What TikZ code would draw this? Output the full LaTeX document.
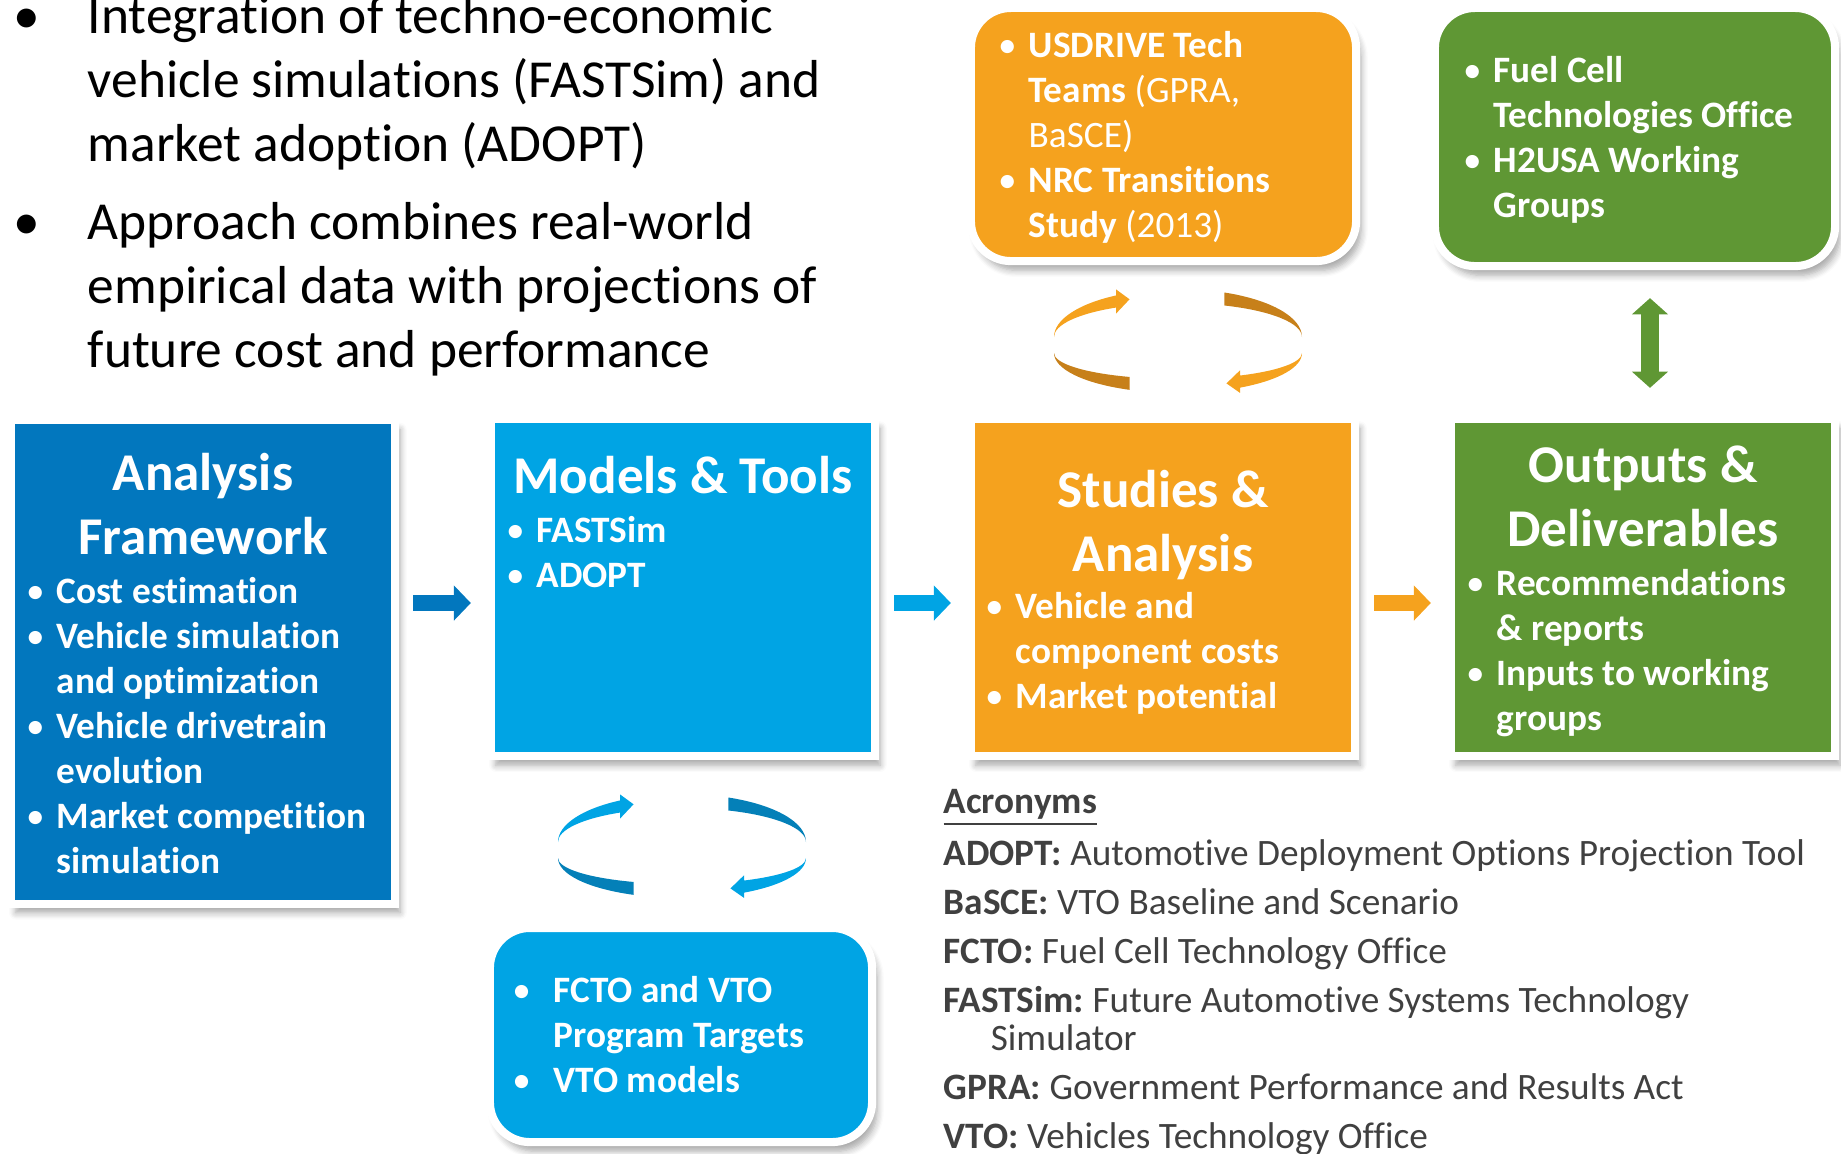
\documentclass[tikz,border=0pt]{standalone}
\usepackage{fontspec}
\setmainfont{Carlito}[Ligatures={TeX,CommonOff}]
\usepackage{xcolor}
\usepackage{tikz}
\usetikzlibrary{positioning}
\usetikzlibrary{shapes,arrows.meta}
\usetikzlibrary{shadows.blur}
\frenchspacing

\definecolor{afblue}{RGB}{2,119,190}
\definecolor{mtblue}{RGB}{0,164,228}
\definecolor{saorange}{RGB}{245,162,30}
\definecolor{odgreen}{RGB}{95,151,52}
\definecolor{orangedark}{RGB}{199,128,26}
\definecolor{bluedark}{RGB}{4,128,184}
\definecolor{acrogray}{RGB}{64,64,64}

\tikzstyle{boxframe} = [draw=white, line width=2.3pt, inner sep=0pt, minimum width=3.84cm,
    blur shadow={shadow xshift=1.4pt, shadow yshift=-2.6pt, shadow opacity=35, shadow blur steps=6}]
\tikzstyle{roundframe} = [boxframe, rounded corners=0.4cm]
\tikzstyle{boxtitle} = [text=white, font=\fontsize{15.1}{18.3}\selectfont\bfseries, text width=3.76cm, align=flush center, inner sep=0pt, anchor=base]
\tikzstyle{boxlist} = [text=white, font=\fontsize{10.6}{12.8}\selectfont\bfseries, text width=4cm, align=flush left, inner sep=0pt, anchor=base west]
\tikzstyle{acrolist} = [text=acrogray, font=\fontsize{10.6}{10.9}\selectfont, text width=9cm, align=flush left, inner sep=0pt, anchor=base west]
\tikzstyle{flowarrow} = [line width=4.5pt, -{Triangle[width=9.7pt, length=4.8pt]}]
\tikzstyle{linkarrow} = [line width=5pt, {Triangle[width=10pt, length=4.6pt]}-{Triangle[width=10pt, length=4.6pt]}]

% bullet hung left of the text start
\newcommand{\bl}[1][3.4pt]{\leavevmode\llap{{\mdseries\textbullet}\hspace{#1}}}

\begin{document}
\begin{tikzpicture}[x=0.01cm, y=-0.01cm]
\useasboundingbox (0,0) rectangle (1841,1153);

%% intro
\node[text=black, font=\fontsize{15.2}{18.2}\selectfont, text width=7.8cm, align=flush left, inner sep=0pt, anchor=base west] (intro) at (87,33) {%
    \bl[13.5pt]Integration of techno-economic\\
    vehicle simulations (FASTSim) and\\
    market adoption (ADOPT)\\[4pt]
    \bl[13.5pt]Approach combines real-world\\
    empirical data with projections of\\
    future cost and performance};

%% main chain
\node[boxframe, fill=afblue, minimum height=4.83cm] (af) at (203,662) {};
\node[boxframe, fill=mtblue, minimum height=3.37cm] (mt) at (683,587.5) {};
\node[boxframe, fill=saorange, minimum height=3.37cm] (sa) at (1163,587.5) {};
\node[boxframe, fill=odgreen, minimum height=3.37cm] (od) at (1643,587.5) {};

\node[boxtitle] (af-title) at (203,490) {Analysis\\Framework};
\node[boxlist] (af-list) at (56,603) {%
    \bl Cost estimation\\
    \bl Vehicle simulation\\
    and optimization\\
    \bl Vehicle drivetrain\\
    evolution\\
    \bl Market competition\\
    simulation};

\node[boxtitle] (mt-title) at (683,493) {Models \& Tools};
\node[boxlist] (mt-list) at (536,542) {%
    \bl FASTSim\\
    \bl ADOPT};

\node[boxtitle] (sa-title) at (1163,507) {Studies \&\\Analysis};
\node[boxlist] (sa-list) at (1015,618) {%
    \bl Vehicle and\\
    component costs\\
    \bl Market potential};

\node[boxtitle] (od-title) at (1643,482) {Outputs \&\\Deliverables};
\node[boxlist] (od-list) at (1496,595) {%
    \bl Recommendations\\
    \& reports\\
    \bl Inputs to working\\
    groups};

\coordinate (flow) at (0,603);
\draw[flowarrow, draw=afblue, shorten <=0.14cm, shorten >=0.16cm] (af.east |- flow) -- (mt.west |- flow);
\draw[flowarrow, draw=mtblue, shorten <=0.15cm, shorten >=0.16cm] (mt.east |- flow) -- (sa.west |- flow);
\draw[flowarrow, draw=saorange, shorten <=0.15cm, shorten >=0.16cm] (sa.east |- flow) -- (od.west |- flow);

%% side inputs
\node[roundframe, fill=saorange, minimum width=3.85cm, minimum height=2.53cm] (usd) at (1163.5,134.5) {};
\node[boxlist] (usd-list) at (1028,57) {%
    \bl USDRIVE Tech\\
    Teams {\mdseries (GPRA,}\\
    {\mdseries BaSCE)}\\
    \bl NRC Transitions\\
    Study {\mdseries (2013)}};

\node[roundframe, fill=odgreen, minimum width=4cm, minimum height=2.58cm] (fc) at (1635,137) {};
\node[boxlist] (fc-list) at (1493,82) {%
    \bl Fuel Cell\\
    Technologies Office\\
    \bl H2USA Working\\
    Groups};

\node[roundframe, fill=mtblue, minimum width=3.82cm, minimum height=2.14cm] (fcto) at (681,1035) {};
\node[boxlist] (fcto-list) at (553,1002) {%
    \bl[6.5pt]FCTO and VTO\\
    Program Targets\\
    \bl[6.5pt]VTO models};

\coordinate (fclink) at (1650,0);
\draw[linkarrow, draw=odgreen, shorten <=0.28cm, shorten >=0.27cm] (fc.south -| fclink) -- (od.north -| fclink);

%% exchange loops
\begin{scope}[shift={(1178,337)}]
\fill[saorange] (180:124 and 48) arc[start angle=180, end angle=240, x radius=124, y radius=48]
    -- (240:124 and 55) -- (247:124 and 41) -- (240:124 and 27)
    -- (240:124 and 34) arc[start angle=240, end angle=180, x radius=124, y radius=34] -- cycle;
\fill[orangedark] (292:124 and 48) arc[start angle=292, end angle=360, x radius=124, y radius=48]
    arc[start angle=0, end angle=-68, x radius=124, y radius=34] -- cycle;
\end{scope}
\begin{scope}[shift={(1178,353)}]
\fill[saorange] (0:124 and 40) arc[start angle=0, end angle=60, x radius=124, y radius=40]
    -- (60:124 and 46) -- (67:124 and 33) -- (60:124 and 20)
    -- (60:124 and 26) arc[start angle=60, end angle=0, x radius=124, y radius=26] -- cycle;
\fill[orangedark] (113:124 and 40) arc[start angle=113, end angle=180, x radius=124, y radius=40]
    arc[start angle=180, end angle=113, x radius=124, y radius=26] -- cycle;
\end{scope}

\begin{scope}[shift={(682,842)}]
\fill[mtblue] (180:124 and 48) arc[start angle=180, end angle=240, x radius=124, y radius=48]
    -- (240:124 and 55) -- (247:124 and 41) -- (240:124 and 27)
    -- (240:124 and 34) arc[start angle=240, end angle=180, x radius=124, y radius=34] -- cycle;
\fill[bluedark] (292:124 and 48) arc[start angle=292, end angle=360, x radius=124, y radius=48]
    arc[start angle=0, end angle=-68, x radius=124, y radius=34] -- cycle;
\end{scope}
\begin{scope}[shift={(682,858)}]
\fill[mtblue] (0:124 and 40) arc[start angle=0, end angle=60, x radius=124, y radius=40]
    -- (60:124 and 46) -- (67:124 and 33) -- (60:124 and 20)
    -- (60:124 and 26) arc[start angle=60, end angle=0, x radius=124, y radius=26] -- cycle;
\fill[bluedark] (113:124 and 40) arc[start angle=113, end angle=180, x radius=124, y radius=40]
    arc[start angle=180, end angle=113, x radius=124, y radius=26] -- cycle;
\end{scope}

%% acronyms
\node[acrolist] (acro) at (943,813) {%
    \underline{\textbf{Acronyms}}\\[3pt]
    \textbf{ADOPT:} Automotive Deployment Options Projection Tool\\[3pt]
    \textbf{BaSCE:} VTO Baseline and Scenario\\[3pt]
    \textbf{FCTO:} Fuel Cell Technology Office\\[3pt]
    \textbf{FASTSim:} Future Automotive Systems Technology\\
    \hspace*{13.4pt}Simulator\\[3pt]
    \textbf{GPRA:} Government Performance and Results Act\\[3pt]
    \textbf{VTO:} Vehicles Technology Office};
\end{tikzpicture}
\end{document}
